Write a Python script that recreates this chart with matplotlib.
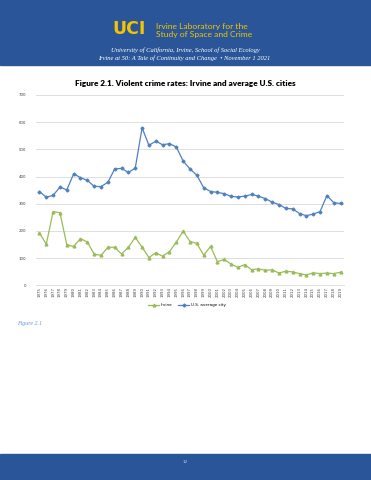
import matplotlib
matplotlib.use("Agg")
import matplotlib.pyplot as plt
import numpy as np

# --- data ---
years = list(range(1975, 2020))
irvine = [193, 151, 271, 267, 149, 143, 172, 159, 115, 110,
          140, 140, 115, 140, 176, 140, 102, 120, 107, 124,
          159, 199, 161, 154, 111, 143, 87, 95, 78, 66,
          76, 57, 61, 55, 57, 45, 52, 49, 43, 38,
          46, 43, 45, 43, 48]
us_avg = [345, 324, 331, 361, 351, 410, 396, 386, 364, 363,
          379, 428, 430, 415, 431, 579, 515, 530, 517, 521,
          509, 457, 428, 405, 359, 345, 342, 337, 327, 325,
          328, 334, 328, 319, 306, 297, 283, 281, 264, 256,
          262, 271, 330, 304, 301]
y_ticks = [0, 100, 200, 300, 400, 500, 600, 700]

BLUE_BAND = "#2a5699"
YELLOW = "#f5c400"
GREEN = "#9bbb59"
BLUE = "#4f81bd"

W, H = 371, 480
fig = plt.figure(figsize=(W / 100, H / 100), dpi=100)
fig.patch.set_facecolor("white")


def fx(px):
    return px / W


def fy(py):
    return 1 - py / H


# header and footer bands
fig.patches.append(plt.Rectangle((0, fy(65)), 1, 65 / H, transform=fig.transFigure,
                                 color=BLUE_BAND, zorder=0))
fig.patches.append(plt.Rectangle((0, 0), 1, 26 / H, transform=fig.transFigure,
                                 color=BLUE_BAND, zorder=0))

fig.text(fx(112), fy(29.5), "UCI", color=YELLOW, fontsize=12.5, fontweight="heavy",
         family="DejaVu Sans", va="center", ha="left")
fig.text(fx(156), fy(27), "Irvine Laboratory for the", color=YELLOW, fontsize=6.1,
         family="Lato", va="center", ha="left")
fig.text(fx(156), fy(34.5), "Study of Space and Crime", color=YELLOW, fontsize=6.1,
         family="Lato", va="center", ha="left")
fig.text(fx(185), fy(50), "University of California, Irvine, School of Social Ecology",
         color="white", fontsize=4.7, family="Liberation Serif", style="italic",
         va="center", ha="center")
fig.text(fx(184), fy(58), "Irvine at 50: A Tale of Continuity and Change  \u2022 November 1 2021",
         color="white", fontsize=4.7, family="Liberation Serif", style="italic",
         va="center", ha="center")
fig.text(fx(185), fy(462), "12", color="#c8d4ea", fontsize=3, va="center", ha="center")

# chart title
fig.text(fx(185), fy(83.5), "Figure 2.1. Violent crime rates: Irvine and average U.S. cities",
         fontsize=5.9, fontweight="heavy", family="Lato", va="center", ha="center")

# main axes
ax = fig.add_axes([fx(36), fy(285.3), fx(344) - fx(36), (285.3 - 95) / H])
x = np.arange(len(years))
ax.plot(x, irvine, color=GREEN, lw=0.9, marker="^", ms=2, label="Irvine")
ax.plot(x, us_avg, color=BLUE, lw=0.9, marker="D", ms=1.5, label="U.S. average city")

ax.set_xlim(-0.5, len(years) - 0.5)
ax.set_ylim(0, 700)
ax.set_yticks(y_ticks)
ax.set_yticklabels([str(v) for v in y_ticks], fontsize=2.8, color="#404040")
ax.set_xticks(x)
ax.set_xticklabels([str(y) for y in years], rotation=90, fontsize=2.8, color="#404040")
ax.tick_params(axis="y", length=0, pad=7)
ax.tick_params(axis="x", length=0, pad=1.5)
ax.grid(axis="y", color="#d9d9d9", lw=0.6)
ax.set_axisbelow(True)
for side in ["top", "right", "left"]:
    ax.spines[side].set_visible(False)
ax.spines["bottom"].set_color("#d9d9d9")
ax.spines["bottom"].set_linewidth(0.6)

ax.legend(loc="center", bbox_to_anchor=(fx(187), fy(305)), bbox_transform=fig.transFigure,
          ncol=2, frameon=False, fontsize=3, handlelength=2.5, columnspacing=1.5,
          handletextpad=0.4)

fig.text(fx(17), fy(323), "Figure 2.1", color="#5b9bd5", fontsize=4.3,
         family="Liberation Serif", style="italic", va="center", ha="left")

fig.savefig("out.png", dpi=100)
